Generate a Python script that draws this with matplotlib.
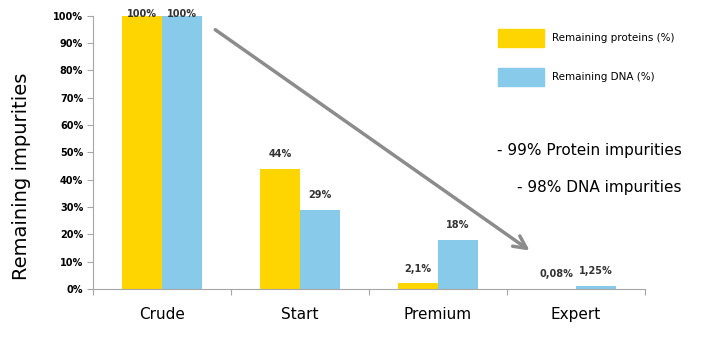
import numpy as np
import matplotlib.pyplot as plt
from matplotlib.patches import Patch

plt.rcParams['font.family'] = ['DejaVu Sans']

# data
categories = ['Crude', 'Start', 'Premium', 'Expert']
proteins = [100, 44, 2.1, 0.08]
dna = [100, 29, 18, 1.25]
protein_labels = ['100%', '44%', '2,1%', '0,08%']
dna_labels = ['100%', '29%', '18%', '1,25%']

yellow = '#FFD500'
blue = '#87CAEA'
grey = '#A6A6A6'

fig = plt.figure(figsize=(7.2, 3.52), dpi=100)
ax = fig.add_axes([0.129, 0.179, 0.767, 0.776])

x = np.arange(len(categories))
w = 0.29
ax.bar(x - w / 2, proteins, w, color=yellow)
ax.bar(x + w / 2, dna, w, color=blue)

for i in range(len(categories)):
    ax.text(x[i] - w / 2, proteins[i] + 3.5, protein_labels[i], ha='center', va='bottom',
            fontsize=7, fontweight='bold', color='#333333')
    ax.text(x[i] + w / 2, dna[i] + 3.5, dna_labels[i], ha='center', va='bottom',
            fontsize=7, fontweight='bold', color='#333333')
# top labels sit lower on the crude bars
for t in ax.texts[:2]:
    t.set_y(99)

ax.set_xlim(-0.5, 3.5)
ax.set_ylim(0, 100)
ax.set_yticks(np.arange(0, 101, 10))
ax.set_yticklabels([f'{v}%' for v in range(0, 101, 10)], fontsize=7, fontweight='bold')
ax.set_xticks(np.arange(-0.5, 3.6, 1))
ax.set_xticklabels([])
ax.set_xticks(x, minor=True)
ax.set_xticklabels(categories, minor=True, fontsize=11)
ax.tick_params(axis='x', which='minor', length=0, pad=13)
ax.tick_params(axis='x', which='major', length=4, color=grey, direction='out')
ax.tick_params(axis='y', length=4, color=grey, pad=3)
for s in ['top', 'right']:
    ax.spines[s].set_visible(False)
for s in ['left', 'bottom']:
    ax.spines[s].set_color(grey)

fig.text(0.03, 0.5, 'Remaining impurities', rotation=90, ha='center', va='center', fontsize=14)

# arrow
ax.annotate('', xy=(2.68, 13.5), xytext=(0.37, 95.5),
            arrowprops=dict(arrowstyle='->,head_length=0.9,head_width=0.45', lw=2.5, color='#8C8C8C'))

# legend
handles = [Patch(color=yellow, label='Remaining proteins (%)'),
           Patch(color=blue, label='Remaining DNA (%)')]
fig.legend(handles=handles, loc='upper left', bbox_to_anchor=(0.678, 0.945), frameon=False,
           fontsize=7.5, handlelength=4.5, handleheight=2.3, labelspacing=2.0, handletextpad=0.7)

fig.text(0.947, 0.573, '- 99% Protein impurities', ha='right', va='center', fontsize=11)
fig.text(0.947, 0.468, '- 98% DNA impurities', ha='right', va='center', fontsize=11)

fig.savefig('out.png', dpi=100)
